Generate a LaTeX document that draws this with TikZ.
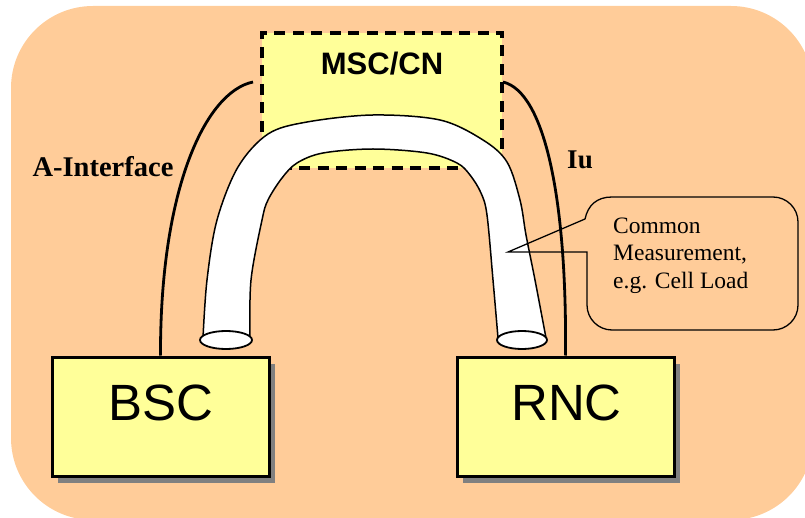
\documentclass[tikz,border=0pt]{standalone}
\usepackage{fontspec}
\setmainfont{Liberation Serif}
\setsansfont{Liberation Sans}
\usetikzlibrary{shadows,shapes.geometric}

\definecolor{peach}{HTML}{FFCC99}
\definecolor{boxyellow}{HTML}{FFFF99}
\definecolor{shadowgray}{HTML}{808080}

\tikzset{
  netbox/.style={draw, line width=3pt, fill=boxyellow, minimum width=217pt,
    minimum height=119pt, inner sep=0pt,
    general shadow={fill=shadowgray, shadow xshift=6pt, shadow yshift=-7pt}},
  corebox/.style={draw, line width=3.6pt, fill=boxyellow, dash pattern=on 11pt off 7.5pt,
    minimum width=240pt, minimum height=135pt, inner sep=0pt},
  boxlabel/.style={font=\sffamily\fontsize{51}{56}\selectfont, inner sep=0pt, anchor=base},
  iflabel/.style={font=\bfseries\fontsize{28.5}{32}\selectfont, inner sep=0pt, anchor=base},
  ifline/.style={line width=2.8pt},
  tubeend/.style={draw, line width=1.8pt, fill=white, ellipse, inner sep=0pt},
}

\begin{document}
\begin{tikzpicture}[x=1pt, y=-1pt]
\useasboundingbox (0,0) rectangle (805,518);

% background panel
\fill[peach, rounded corners=82pt] (11,6) rectangle (813,520);

% core network box
\node[corebox] (msc) at (382,100.5) {};
\node[font=\sffamily\bfseries\fontsize{31}{36}\selectfont, inner sep=0pt, anchor=base] (msclabel) at (382,75) {MSC/CN};

% access controllers
\node[netbox] (bsc) at (160.5,416.5) {};
\node[netbox] (rnc) at (565.5,416.5) {};

% interface lines towards the core
\coordinate (aend) at (253,82);
\coordinate (iuend) at (503,82);
\draw[ifline] (bsc.north) .. controls (160,190) and (205,92) .. (aend);
\draw[ifline] (rnc.north) .. controls (567,200) and (545,92) .. (iuend);

% redraw boxes over the line ends
\node[netbox] at (bsc) {};
\node[netbox] at (rnc) {};
\node[boxlabel] (bsclabel) at (160.5,420) {BSC};
\node[boxlabel] (rnclabel) at (566.5,420) {RNC};

% tube between BSC and RNC through the core
\fill[white]
  plot[smooth, tension=0.55] coordinates {(203,338) (207,280) (217,220) (238,167) (268,134) (307,122) (373,115) (440,120) (483,140) (507,162) (520,200) (526,235) (535,280) (546,338)}
  -- plot[smooth, tension=0.55] coordinates {(498,338) (493,280) (487,215) (481,193) (470,175) (457,163) (427,153) (373,149) (323,153) (297,163) (282,178) (268,200) (262,220) (251,280) (250,338)}
  -- cycle;
\draw[line width=1.5pt]
  plot[smooth, tension=0.55] coordinates {(203,338) (207,280) (217,220) (238,167) (268,134) (307,122) (373,115) (440,120) (483,140) (507,162) (520,200) (526,235) (535,280) (546,338)};
\draw[line width=1.5pt]
  plot[smooth, tension=0.55] coordinates {(498,338) (493,280) (487,215) (481,193) (470,175) (457,163) (427,153) (373,149) (323,153) (297,163) (282,178) (268,200) (262,220) (251,280) (250,338)};
\node[tubeend, minimum width=52pt, minimum height=18pt] (tubeL) at (226,340) {};
\node[tubeend, minimum width=50pt, minimum height=18pt] (tubeR) at (522,340) {};

% interface labels
\node[iflabel] (alabel) at (103,177) {A-Interface};
\node[iflabel, font=\bfseries\fontsize{27}{30}\selectfont] (iulabel) at (580,169) {Iu};

% callout
\coordinate (tip) at (508,252);
\draw[line width=1.3pt] (tip) -- (587,252) -- (587,305)
  .. controls (587,318.8) and (598.2,330) .. (612,330) -- (773,330)
  .. controls (786.8,330) and (798,318.8) .. (798,305) -- (798,222)
  .. controls (798,208.2) and (786.8,197) .. (773,197) -- (612,197)
  .. controls (597,197) and (588,205) .. (585,219) -- cycle;
\node[font=\fontsize{23.5}{27.5}\selectfont, align=left, inner sep=0pt, anchor=north west] (note) at (613,217.5)
  {Common\\Measurement,\\e.g. Cell Load};
\end{tikzpicture}
\end{document}
